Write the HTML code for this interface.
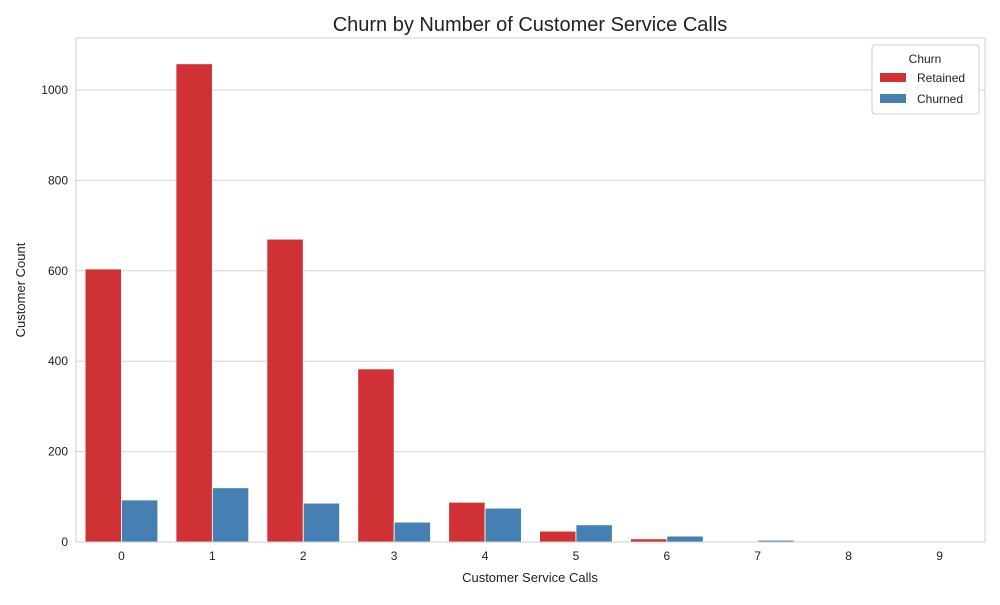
<!DOCTYPE html>
<html><head><meta charset="utf-8"><style>
body{margin:0;background:#fff;font-family:"Liberation Sans",Arial,sans-serif}
</style></head><body>
<svg id="c" width="1000" height="600" xmlns="http://www.w3.org/2000/svg" font-family="Liberation Sans, Arial, sans-serif"></svg>
<script>
const categories=["0","1","2","3","4","5","6","7","8","9"];
const retained=[604,1058,670,383,88,24,7,2,0,0];
const churned=[93,120,86,44,75,38,13,4,1,1];
const yTicks=[0,200,400,600,800,1000];
const seriesNames=["Retained","Churned"];
const colors=["#d03135","#4680b2"];
const L=76,R=985,T=38,B=542;
const band=(R-L)/categories.length;
const y=v=>B-v*0.452;
const xc=i=>L+band*(i+0.5);
const svg=document.getElementById('c');
const NS="http://www.w3.org/2000/svg";
function mk(t,a,txt){const e=document.createElementNS(NS,t);for(const k in a)e.setAttribute(k,a[k]);if(txt!=null)e.textContent=txt;svg.appendChild(e);return e;}
yTicks.forEach(v=>{
 const g=mk('line',{x1:L,x2:R,y1:y(v),y2:y(v),stroke:'#d5d5d5','stroke-width':1});
 
 
 const t=mk('text',{x:L-8,y:y(v)+4,'text-anchor':'end','font-size':12,fill:'#222'},v);
 
 
});
const bw=band*0.4;
[retained,churned].forEach((s,si)=>{
 s.forEach((v,i)=>{
  const x=xc(i)-bw+si*bw;
  const r=mk('rect',{x:x,y:y(v),width:bw,height:B-y(v),fill:colors[si],stroke:'#fff','stroke-width':0.8});
  
  
 });
});
categories.forEach((c,i)=>{
 const t=mk('text',{x:xc(i),y:B+18,'text-anchor':'middle','font-size':12,fill:'#222'},c);
 
 
});
const fr=mk('rect',{x:L,y:T,width:R-L,height:B-T,fill:'none',stroke:'#cfcfcf','stroke-width':1});


let e;
e=mk('text',{x:530,y:31,'text-anchor':'middle','font-size':20,fill:'#222'},'Churn by Number of Customer Service Calls');


e=mk('text',{x:530,y:582,'text-anchor':'middle','font-size':13,fill:'#222'},'Customer Service Calls');


e=mk('text',{x:25,y:290,'text-anchor':'middle','font-size':13,fill:'#222',transform:'rotate(-90 25 290)'},'Customer Count');


e=mk('rect',{x:872,y:45,width:107,height:69,rx:3,fill:'#fff',stroke:'#ccc'});


e=mk('text',{x:925,y:63,'text-anchor':'middle','font-size':12,fill:'#222'},'Churn');


seriesNames.forEach((n,i)=>{
 const r=mk('rect',{x:880,y:73+i*21,width:26,height:9,fill:colors[i]});
 
 
 const t=mk('text',{x:917,y:82+i*21,'font-size':12,fill:'#222'},n);
 
 
});
</script>
</body></html>
